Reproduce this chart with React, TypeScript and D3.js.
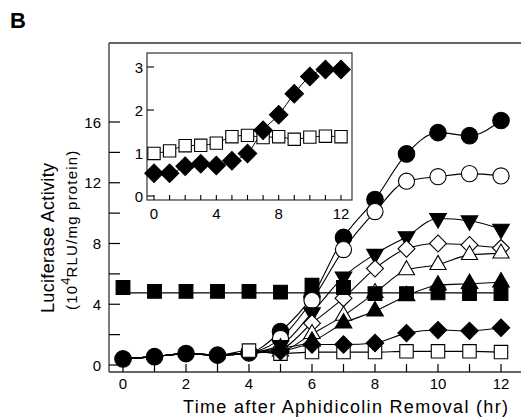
import React from "react";
import * as d3 from "d3";

// ---- data ----
const hours = [0, 1, 2, 3, 4, 5, 6, 7, 8, 9, 10, 11, 12];

const filledCircle = [0.4, 0.55, 0.75, 0.65, 0.8, 2.2, 4.5, 8.4, 10.9, 13.9, 15.3, 15.1, 16.1];
const openCircle = [0.4, 0.55, 0.75, 0.65, 0.8, 1.75, 4.25, 7.6, 10.1, 12.1, 12.4, 12.6, 12.45];
const filledTriDown = [0.4, 0.55, 0.75, 0.65, 0.8, 1.3, 3.45, 5.8, 7.3, 8.45, 9.65, 9.5, 8.95];
const openDiamond = [0.4, 0.55, 0.75, 0.65, 0.8, 1.05, 2.75, 4.4, 6.35, 7.65, 8.0, 7.9, 7.7];
const openTriUp = [0.4, 0.55, 0.75, 0.65, 0.8, 0.9, 2.05, 3.25, 4.75, 6.25, 6.6, 7.25, 7.35];
const filledTriUp = [0.4, 0.55, 0.75, 0.65, 0.8, 1.1, 1.55, 2.75, 3.55, 4.55, 5.25, 5.35, 5.45];
const filledSquare = [5.1, 4.85, 4.85, 4.85, 4.85, 4.8, 5.25, 5.1, 4.7, 4.7, 4.75, 4.7, 4.7];
const filledSquareFitHours = [0, 12];
const filledSquareFit = [4.75, 4.75];
const openSquare = [0.4, 0.55, 0.75, 0.65, 0.95, 0.75, 0.85, 0.85, 0.85, 0.9, 0.9, 0.9, 0.85];
const filledDiamond = [0.4, 0.55, 0.75, 0.65, 0.8, 0.9, 1.35, 1.35, 1.45, 2.1, 2.3, 2.25, 2.45];

const insetDiamond = [0.53, 0.53, 0.69, 0.75, 0.71, 0.82, 0.99, 1.53, 1.89, 2.38, 2.78, 2.94, 2.94];
const insetSquare = [0.99, 1.05, 1.17, 1.18, 1.23, 1.38, 1.41, 1.36, 1.38, 1.32, 1.37, 1.39, 1.38];

const mainYTicks = [0, 2, 4, 6, 8, 10, 12, 14, 16];
const mainYLabels = [0, 4, 8, 12, 16];
const mainXLabels = [0, 2, 4, 6, 8, 10, 12];
const insetYTicks = [0, 1, 2, 3];
const insetXLabels = [0, 4, 8, 12];

const FONT = "'Liberation Sans', Arial, Helvetica, sans-serif";

type Shape = "circle" | "square" | "diamond" | "triUp" | "triDown";

function markerPath(shape: Shape, scale = 1): string {
  const s = d3.symbol();
  switch (shape) {
    case "circle":
      return s.type(d3.symbolCircle).size(215 * scale)() as string;
    case "square":
      return s.type(d3.symbolSquare).size(190 * scale)() as string;
    case "diamond":
      return s.type(d3.symbolSquare).size(150 * scale)() as string;
    case "triUp":
    case "triDown":
      return s.type(d3.symbolTriangle).size(120 * scale)() as string;
  }
}

function rot(shape: Shape) {
  if (shape === "diamond") return 45;
  if (shape === "triDown") return 180;
  return 0;
}

interface Series {
  values: number[];
  shape: Shape;
  filled: boolean;
  line: boolean;
  // first hour index whose marker is not fully covered by the filled circles
  visibleFrom: number;
}

const mainSeries: Series[] = [
  { values: filledCircle, shape: "circle", filled: true, line: true, visibleFrom: 0 },
  { values: openCircle, shape: "circle", filled: false, line: true, visibleFrom: 5 },
  { values: filledTriDown, shape: "triDown", filled: true, line: true, visibleFrom: 5 },
  { values: openDiamond, shape: "diamond", filled: false, line: true, visibleFrom: 5 },
  { values: openTriUp, shape: "triUp", filled: false, line: true, visibleFrom: 5 },
  { values: filledTriUp, shape: "triUp", filled: true, line: true, visibleFrom: 5 },
  { values: filledSquare, shape: "square", filled: true, line: false, visibleFrom: 0 },
  { values: openSquare, shape: "square", filled: false, line: true, visibleFrom: 4 },
  { values: filledDiamond, shape: "diamond", filled: true, line: true, visibleFrom: 5 },
];

export default function App() {
  const x = d3.scaleLinear().domain([0, 12]).range([123, 501]);
  const y = d3.scaleLinear().domain([0, 16]).range([365, 122]);
  const xi = d3.scaleLinear().domain([0, 12]).range([154, 341]);
  const yi = d3.scaleLinear().domain([0, 3]).range([196, 67]);

  const mainLine = d3
    .line<number>()
    .x((_, i) => x(hours[i]))
    .y((v) => y(v))
    .curve(d3.curveMonotoneX);
  const insetLine = d3
    .line<number>()
    .x((_, i) => xi(hours[i]))
    .y((v) => yi(v))
    .curve(d3.curveMonotoneX);

  const left = 109, top = 43, bottom = 372, right = 521;
  const iL = 147, iR = 352, iT = 53, iB = 200;

  return (
    <svg
      width={521}
      height={420}
      style={{ position: "absolute", left: 0, top: 0, background: "#fff" }}
      fontFamily={FONT}
    >
      <rect x={0} y={0} width={521} height={420} fill="#fff" />
      <text x={10} y={28} fontSize={22} fontWeight="bold">B</text>

      {/* main frame */}
      <g stroke="#333" strokeWidth={1.3} fill="none">
        <line x1={left} y1={top} x2={right} y2={top} />
        <line x1={left} y1={top} x2={left} y2={bottom} />
        <line x1={left} y1={bottom} x2={right} y2={bottom} />
      </g>
      {/* main ticks */}
      <g stroke="#000" strokeWidth={1.2}>
        {mainYTicks.map((t) => (
          <line key={t} x1={left} x2={left + 11} y1={y(t)} y2={y(t)} />
        ))}
        {hours.map((h) => (
          <line key={h} x1={x(h)} x2={x(h)} y1={bottom} y2={bottom - 8} />
        ))}
      </g>
      <g fontSize={15} fill="#000">
        {mainYLabels.map((t) => (
          <text key={t} x={101} y={y(t)} textAnchor="end" dominantBaseline="central">
            {t}
          </text>
        ))}
        {mainXLabels.map((t) => (
          <text key={t} x={x(t)} y={389} textAnchor="middle">
            {t}
          </text>
        ))}
      </g>
      <text x={183} y={413} fontSize={18} textLength={325} lengthAdjust="spacing">
        Time after Aphidicolin Removal (hr)
      </text>
      <text
        transform="translate(54,313) rotate(-90)"
        fontSize={18}
        textLength={150}
        lengthAdjust="spacing"
      >
        Luciferase  Activity
      </text>
      <text transform="translate(77,310) rotate(-90)" fontSize={15}>
        <tspan letterSpacing={1.2}>(10</tspan>
        <tspan dy={-7} fontSize={13}>4</tspan>
        <tspan dy={7} letterSpacing={1.2}>RLU/mg protein)</tspan>
      </text>

      {/* main lines */}
      <g fill="none" stroke="#000" strokeWidth={1.1}>
        {mainSeries
          .filter((s) => s.line)
          .map((s, i) => (
            <path key={i} d={mainLine(s.values) as string} />
          ))}
        <line
          x1={x(filledSquareFitHours[0])}
          x2={x(filledSquareFitHours[1])}
          y1={y(filledSquareFit[0])}
          y2={y(filledSquareFit[1])}
        />
      </g>
      {/* main markers */}
      {mainSeries.map((s, si) => (
        <g key={si}>
          {s.values.map((v, i) =>
            i < s.visibleFrom ? null : (
              <path
                key={i}
                d={markerPath(s.shape, s.filled ? 1 : 0.95)}
                transform={`translate(${x(hours[i])},${y(v)}) rotate(${rot(s.shape)})`}
                fill={s.filled ? "#000" : "#fff"}
                stroke="#000"
                strokeWidth={1.1}
              />
            )
          )}
        </g>
      ))}

      {/* inset */}
      <rect x={iL} y={iT} width={iR - iL} height={iB - iT} fill="#fff" stroke="#333" strokeWidth={1.2} />
      <g stroke="#000" strokeWidth={1.1}>
        {insetYTicks.map((t) => (
          <line key={t} x1={iL} x2={iL + 7} y1={yi(t)} y2={yi(t)} />
        ))}
        {hours.map((h) => (
          <line key={h} x1={xi(h)} x2={xi(h)} y1={iB} y2={iB - 5} />
        ))}
      </g>
      <g fontSize={15} fill="#000">
        {insetYTicks.map((t) => (
          <text key={t} x={143} y={yi(t)} textAnchor="end" dominantBaseline="central">
            {t}
          </text>
        ))}
        {insetXLabels.map((t) => (
          <text key={t} x={xi(t)} y={219} textAnchor="middle">
            {t}
          </text>
        ))}
      </g>
      <g fill="none" stroke="#000" strokeWidth={1}>
        <path d={insetLine(insetSquare) as string} />
        <path d={insetLine(insetDiamond) as string} />
      </g>
      {insetSquare.map((v, i) => (
        <path
          key={"s" + i}
          d={markerPath("square", 0.8)}
          transform={`translate(${xi(hours[i])},${yi(v)})`}
          fill="#fff"
          stroke="#000"
          strokeWidth={1.1}
        />
      ))}
      {insetDiamond.map((v, i) => (
        <path
          key={"d" + i}
          d={markerPath("diamond", 1.15)}
          transform={`translate(${xi(hours[i])},${yi(v)}) rotate(45)`}
          fill="#000"
          stroke="#000"
          strokeWidth={1}
        />
      ))}
    </svg>
  );
}
